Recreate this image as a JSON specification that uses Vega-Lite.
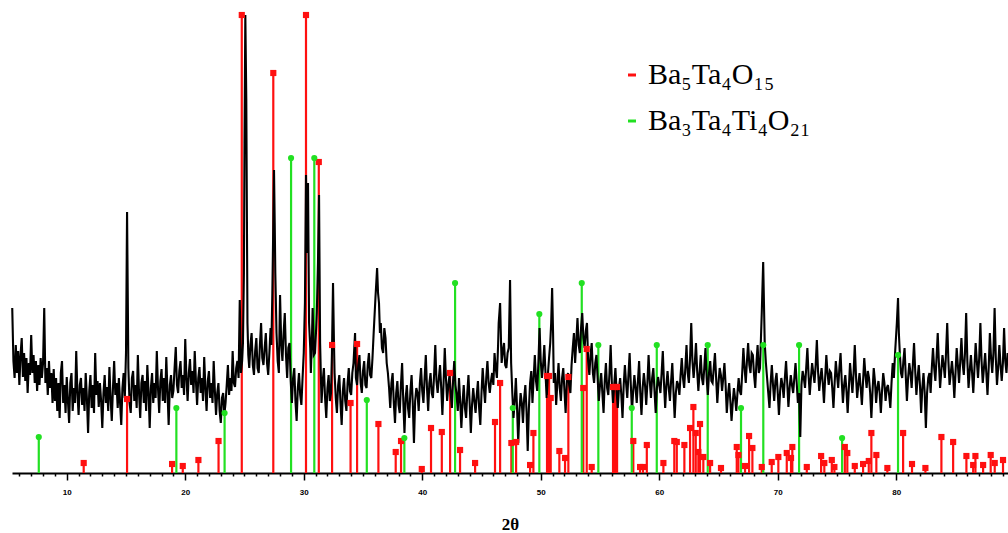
{
"$schema": "https://vega.github.io/schema/vega-lite/v6.json",
"width": 996,
"height": 461,
"autosize": {"type": "none"},
"padding": {"left": 12, "top": 12, "right": 0, "bottom": 60},
"background": "white",
"config": {"view": {"stroke": null}},
"resolve": {"axis": {"x": "independent"}},
"datasets": {
"sticks": [
{"t":11.43,"h":10,"p":"Ba₅Ta₄O₁₅"},{"t":15.09,"h":74,"p":"Ba₅Ta₄O₁₅"},{"t":18.89,"h":9,"p":"Ba₅Ta₄O₁₅"},{"t":19.79,"h":7,"p":"Ba₅Ta₄O₁₅"},{"t":21.11,"h":13,"p":"Ba₅Ta₄O₁₅"},{"t":22.81,"h":32,"p":"Ba₅Ta₄O₁₅"},{"t":24.77,"h":458,"p":"Ba₅Ta₄O₁₅"},{"t":27.43,"h":400,"p":"Ba₅Ta₄O₁₅"},{"t":30.19,"h":458,"p":"Ba₅Ta₄O₁₅"},{"t":31.27,"h":311,"p":"Ba₅Ta₄O₁₅"},{"t":32.39,"h":128,"p":"Ba₅Ta₄O₁₅"},{"t":33.95,"h":70,"p":"Ba₅Ta₄O₁₅"},{"t":34.5,"h":129,"p":"Ba₅Ta₄O₁₅"},{"t":36.3,"h":49,"p":"Ba₅Ta₄O₁₅"},{"t":37.76,"h":21,"p":"Ba₅Ta₄O₁₅"},{"t":38.21,"h":32,"p":"Ba₅Ta₄O₁₅"},{"t":39.96,"h":4,"p":"Ba₅Ta₄O₁₅"},{"t":40.74,"h":45,"p":"Ba₅Ta₄O₁₅"},{"t":41.65,"h":41,"p":"Ba₅Ta₄O₁₅"},{"t":42.35,"h":100,"p":"Ba₅Ta₄O₁₅"},{"t":43.19,"h":23,"p":"Ba₅Ta₄O₁₅"},{"t":44.46,"h":10,"p":"Ba₅Ta₄O₁₅"},{"t":46.14,"h":51,"p":"Ba₅Ta₄O₁₅"},{"t":46.57,"h":90,"p":"Ba₅Ta₄O₁₅"},{"t":47.52,"h":30,"p":"Ba₅Ta₄O₁₅"},{"t":47.92,"h":31,"p":"Ba₅Ta₄O₁₅"},{"t":49.1,"h":8,"p":"Ba₅Ta₄O₁₅"},{"t":49.38,"h":40,"p":"Ba₅Ta₄O₁₅"},{"t":50.53,"h":97,"p":"Ba₅Ta₄O₁₅"},{"t":50.7,"h":97,"p":"Ba₅Ta₄O₁₅"},{"t":50.84,"h":75,"p":"Ba₅Ta₄O₁₅"},{"t":51.57,"h":22,"p":"Ba₅Ta₄O₁₅"},{"t":52.05,"h":15,"p":"Ba₅Ta₄O₁₅"},{"t":52.33,"h":96,"p":"Ba₅Ta₄O₁₅"},{"t":53.59,"h":85,"p":"Ba₅Ta₄O₁₅"},{"t":53.88,"h":124,"p":"Ba₅Ta₄O₁₅"},{"t":54.3,"h":6,"p":"Ba₅Ta₄O₁₅"},{"t":56.1,"h":86,"p":"Ba₅Ta₄O₁₅"},{"t":56.27,"h":86,"p":"Ba₅Ta₄O₁₅"},{"t":56.44,"h":86,"p":"Ba₅Ta₄O₁₅"},{"t":57.81,"h":32,"p":"Ba₅Ta₄O₁₅"},{"t":58.38,"h":6,"p":"Ba₅Ta₄O₁₅"},{"t":58.63,"h":6,"p":"Ba₅Ta₄O₁₅"},{"t":58.95,"h":28,"p":"Ba₅Ta₄O₁₅"},{"t":60.35,"h":10,"p":"Ba₅Ta₄O₁₅"},{"t":61.27,"h":32,"p":"Ba₅Ta₄O₁₅"},{"t":61.48,"h":31,"p":"Ba₅Ta₄O₁₅"},{"t":62.12,"h":28,"p":"Ba₅Ta₄O₁₅"},{"t":62.6,"h":45,"p":"Ba₅Ta₄O₁₅"},{"t":62.88,"h":66,"p":"Ba₅Ta₄O₁₅"},{"t":63.08,"h":40,"p":"Ba₅Ta₄O₁₅"},{"t":63.3,"h":21,"p":"Ba₅Ta₄O₁₅"},{"t":63.44,"h":49,"p":"Ba₅Ta₄O₁₅"},{"t":63.72,"h":16,"p":"Ba₅Ta₄O₁₅"},{"t":64.29,"h":10,"p":"Ba₅Ta₄O₁₅"},{"t":65.21,"h":5,"p":"Ba₅Ta₄O₁₅"},{"t":66.54,"h":26,"p":"Ba₅Ta₄O₁₅"},{"t":66.68,"h":18,"p":"Ba₅Ta₄O₁₅"},{"t":67.24,"h":7,"p":"Ba₅Ta₄O₁₅"},{"t":67.58,"h":37,"p":"Ba₅Ta₄O₁₅"},{"t":67.86,"h":25,"p":"Ba₅Ta₄O₁₅"},{"t":68.65,"h":6,"p":"Ba₅Ta₄O₁₅"},{"t":69.49,"h":11,"p":"Ba₅Ta₄O₁₅"},{"t":70.05,"h":16,"p":"Ba₅Ta₄O₁₅"},{"t":70.76,"h":20,"p":"Ba₅Ta₄O₁₅"},{"t":71.12,"h":15,"p":"Ba₅Ta₄O₁₅"},{"t":71.23,"h":26,"p":"Ba₅Ta₄O₁₅"},{"t":72.45,"h":6,"p":"Ba₅Ta₄O₁₅"},{"t":73.66,"h":17,"p":"Ba₅Ta₄O₁₅"},{"t":73.93,"h":10,"p":"Ba₅Ta₄O₁₅"},{"t":74.56,"h":13,"p":"Ba₅Ta₄O₁₅"},{"t":74.78,"h":6,"p":"Ba₅Ta₄O₁₅"},{"t":75.66,"h":26,"p":"Ba₅Ta₄O₁₅"},{"t":75.87,"h":20,"p":"Ba₅Ta₄O₁₅"},{"t":76.5,"h":7,"p":"Ba₅Ta₄O₁₅"},{"t":77.2,"h":9,"p":"Ba₅Ta₄O₁₅"},{"t":77.68,"h":12,"p":"Ba₅Ta₄O₁₅"},{"t":77.9,"h":40,"p":"Ba₅Ta₄O₁₅"},{"t":78.32,"h":18,"p":"Ba₅Ta₄O₁₅"},{"t":79.25,"h":5,"p":"Ba₅Ta₄O₁₅"},{"t":80.58,"h":40,"p":"Ba₅Ta₄O₁₅"},{"t":81.33,"h":9,"p":"Ba₅Ta₄O₁₅"},{"t":82.46,"h":5,"p":"Ba₅Ta₄O₁₅"},{"t":83.81,"h":36,"p":"Ba₅Ta₄O₁₅"},{"t":84.8,"h":31,"p":"Ba₅Ta₄O₁₅"},{"t":85.92,"h":17,"p":"Ba₅Ta₄O₁₅"},{"t":86.49,"h":8,"p":"Ba₅Ta₄O₁₅"},{"t":86.68,"h":17,"p":"Ba₅Ta₄O₁₅"},{"t":87.33,"h":8,"p":"Ba₅Ta₄O₁₅"},{"t":87.97,"h":18,"p":"Ba₅Ta₄O₁₅"},{"t":88.31,"h":10,"p":"Ba₅Ta₄O₁₅"},{"t":89.01,"h":13,"p":"Ba₅Ta₄O₁₅"},
{"t":7.64,"h":36,"p":"Ba₃Ta₄Ti₄O₂₁"},{"t":19.25,"h":65,"p":"Ba₃Ta₄Ti₄O₂₁"},{"t":23.32,"h":60,"p":"Ba₃Ta₄Ti₄O₂₁"},{"t":28.93,"h":315,"p":"Ba₃Ta₄Ti₄O₂₁"},{"t":30.89,"h":315,"p":"Ba₃Ta₄Ti₄O₂₁"},{"t":35.32,"h":73,"p":"Ba₃Ta₄Ti₄O₂₁"},{"t":38.49,"h":35,"p":"Ba₃Ta₄Ti₄O₂₁"},{"t":42.77,"h":190,"p":"Ba₃Ta₄Ti₄O₂₁"},{"t":47.64,"h":65,"p":"Ba₃Ta₄Ti₄O₂₁"},{"t":49.88,"h":159,"p":"Ba₃Ta₄Ti₄O₂₁"},{"t":53.46,"h":190,"p":"Ba₃Ta₄Ti₄O₂₁"},{"t":54.86,"h":128,"p":"Ba₃Ta₄Ti₄O₂₁"},{"t":57.68,"h":65,"p":"Ba₃Ta₄Ti₄O₂₁"},{"t":59.79,"h":128,"p":"Ba₃Ta₄Ti₄O₂₁"},{"t":64.09,"h":128,"p":"Ba₃Ta₄Ti₄O₂₁"},{"t":66.9,"h":65,"p":"Ba₃Ta₄Ti₄O₂₁"},{"t":68.78,"h":128,"p":"Ba₃Ta₄Ti₄O₂₁"},{"t":71.8,"h":128,"p":"Ba₃Ta₄Ti₄O₂₁"},{"t":75.43,"h":35,"p":"Ba₃Ta₄Ti₄O₂₁"},{"t":80.15,"h":118,"p":"Ba₃Ta₄Ti₄O₂₁"}
],
"xrd": [
{"t":5.4,"i":165},{"t":5.5,"i":112},{"t":5.6,"i":95},{"t":5.7,"i":128},{"t":5.8,"i":100},{"t":5.9,"i":122},{"t":6.0,"i":88},{"t":6.1,"i":118},{"t":6.2,"i":135},{"t":6.3,"i":96},{"t":6.4,"i":120},{"t":6.5,"i":92},{"t":6.6,"i":115},{"t":6.7,"i":80},{"t":6.8,"i":110},{"t":6.9,"i":98},{"t":7.0,"i":138},{"t":7.1,"i":100},{"t":7.2,"i":118},{"t":7.3,"i":90},{"t":7.4,"i":112},
{"t":7.5,"i":82},{"t":7.6,"i":108},{"t":7.7,"i":88},{"t":7.8,"i":115},{"t":7.9,"i":95},{"t":8.0,"i":110},{"t":8.1,"i":165},{"t":8.2,"i":90},{"t":8.3,"i":105},{"t":8.4,"i":78},{"t":8.5,"i":112},{"t":8.6,"i":85},{"t":8.7,"i":100},{"t":8.8,"i":70},{"t":8.9,"i":104},
{"t":9.0,"i":72},{"t":9.1,"i":95},{"t":9.2,"i":62},{"t":9.3,"i":90},{"t":9.4,"i":55},{"t":9.5,"i":100},{"t":9.6,"i":112},{"t":9.7,"i":70},{"t":9.8,"i":88},{"t":9.9,"i":60},{"t":10.0,"i":96},{"t":10.1,"i":72},{"t":10.2,"i":50},{"t":10.3,"i":90},{"t":10.4,"i":100},{"t":10.5,"i":62},{"t":10.6,"i":85},{"t":10.7,"i":70},{"t":10.8,"i":122},{"t":10.9,"i":80},{"t":11.0,"i":58},{"t":11.1,"i":88},{"t":11.2,"i":95},{"t":11.3,"i":68},{"t":11.4,"i":85},{"t":11.5,"i":62},{"t":11.6,"i":100},{"t":11.7,"i":75},{"t":11.8,"i":40},{"t":11.9,"i":82},{"t":12.0,"i":98},{"t":12.1,"i":65},{"t":12.2,"i":88},{"t":12.3,"i":60},{"t":12.4,"i":120},{"t":12.5,"i":78},{"t":12.6,"i":92},{"t":12.7,"i":66},{"t":12.8,"i":90},{"t":12.9,"i":72},{"t":13.0,"i":45},{"t":13.1,"i":80},{"t":13.2,"i":98},{"t":13.3,"i":70},{"t":13.4,"i":86},{"t":13.5,"i":62},{"t":13.6,"i":106},{"t":13.7,"i":75},{"t":13.8,"i":52},{"t":13.9,"i":85},{"t":14.0,"i":112},{"t":14.1,"i":78},{"t":14.2,"i":90},{"t":14.3,"i":65},{"t":14.4,"i":95},{"t":14.5,"i":70},{"t":14.6,"i":48},{"t":14.7,"i":85},{"t":14.8,"i":100},{"t":14.9,"i":75},
{"t":15.0,"i":120},{"t":15.09,"i":261},{"t":15.2,"i":105},
{"t":15.3,"i":70},{"t":15.4,"i":60},{"t":15.5,"i":95},{"t":15.6,"i":102},{"t":15.7,"i":72},{"t":15.8,"i":88},{"t":15.9,"i":65},{"t":16.0,"i":118},{"t":16.1,"i":80},{"t":16.2,"i":55},{"t":16.3,"i":90},{"t":16.4,"i":98},{"t":16.5,"i":70},{"t":16.6,"i":92},{"t":16.7,"i":62},{"t":16.8,"i":108},{"t":16.9,"i":82},{"t":17.0,"i":45},{"t":17.1,"i":85},{"t":17.2,"i":100},{"t":17.3,"i":70},{"t":17.4,"i":90},{"t":17.5,"i":75},{"t":17.6,"i":122},{"t":17.7,"i":85},{"t":17.8,"i":60},{"t":17.9,"i":92},{"t":18.0,"i":104},{"t":18.1,"i":72},{"t":18.2,"i":95},{"t":18.3,"i":70},{"t":18.4,"i":116},{"t":18.5,"i":82},{"t":18.6,"i":48},{"t":18.7,"i":88},{"t":18.8,"i":98},{"t":18.9,"i":75},
{"t":19.0,"i":82},{"t":19.1,"i":105},{"t":19.2,"i":126},{"t":19.3,"i":88},{"t":19.4,"i":80},{"t":19.5,"i":102},{"t":19.6,"i":112},{"t":19.7,"i":85},{"t":19.8,"i":98},{"t":19.9,"i":78},{"t":20.0,"i":134},{"t":20.1,"i":95},{"t":20.2,"i":72},{"t":20.3,"i":100},{"t":20.4,"i":114},{"t":20.5,"i":88},{"t":20.6,"i":102},{"t":20.7,"i":80},{"t":20.8,"i":122},{"t":20.9,"i":92},
{"t":21.0,"i":68},{"t":21.1,"i":95},{"t":21.2,"i":106},{"t":21.3,"i":80},{"t":21.4,"i":95},{"t":21.5,"i":72},{"t":21.6,"i":116},{"t":21.7,"i":85},{"t":21.8,"i":62},{"t":21.9,"i":92},{"t":22.0,"i":102},{"t":22.1,"i":75},{"t":22.2,"i":90},{"t":22.3,"i":70},{"t":22.4,"i":112},{"t":22.5,"i":82},{"t":22.6,"i":58},
{"t":22.7,"i":80},{"t":22.8,"i":90},{"t":22.9,"i":62},{"t":23.0,"i":50},{"t":23.1,"i":75},{"t":23.2,"i":80},{"t":23.3,"i":58},{"t":23.4,"i":70},
{"t":23.5,"i":88},{"t":23.6,"i":108},{"t":23.7,"i":78},{"t":23.8,"i":95},{"t":23.9,"i":82},{"t":24.0,"i":122},{"t":24.1,"i":90},{"t":24.2,"i":86},{"t":24.3,"i":105},{"t":24.4,"i":112},{"t":24.5,"i":95},{"t":24.6,"i":173},{"t":24.7,"i":100},{"t":24.8,"i":112},{"t":24.87,"i":130},
{"t":24.95,"i":200},{"t":25.0,"i":330},{"t":25.07,"i":458},{"t":25.15,"i":375},{"t":25.25,"i":150},{"t":25.32,"i":118},
{"t":25.4,"i":105},{"t":25.5,"i":128},{"t":25.6,"i":140},{"t":25.7,"i":108},{"t":25.8,"i":98},{"t":25.9,"i":122},{"t":26.0,"i":135},{"t":26.1,"i":105},{"t":26.2,"i":100},{"t":26.3,"i":128},{"t":26.4,"i":150},{"t":26.5,"i":115},{"t":26.6,"i":108},{"t":26.7,"i":125},{"t":26.8,"i":140},{"t":26.9,"i":110},{"t":27.0,"i":98},{"t":27.1,"i":120},{"t":27.2,"i":145},{"t":27.27,"i":128},
{"t":27.35,"i":180},{"t":27.42,"i":240},{"t":27.49,"i":303},{"t":27.55,"i":250},{"t":27.6,"i":200},{"t":27.7,"i":140},
{"t":27.8,"i":112},{"t":27.9,"i":100},{"t":28.0,"i":178},{"t":28.1,"i":130},{"t":28.2,"i":112},{"t":28.3,"i":140},{"t":28.4,"i":160},{"t":28.5,"i":118},{"t":28.6,"i":95},{"t":28.7,"i":125},{"t":28.8,"i":130},{"t":28.9,"i":92},
{"t":29.0,"i":70},{"t":29.1,"i":95},{"t":29.2,"i":105},{"t":29.3,"i":72},{"t":29.4,"i":52},{"t":29.5,"i":85},{"t":29.6,"i":100},{"t":29.7,"i":78},{"t":29.8,"i":68},{"t":29.9,"i":95},{"t":30.0,"i":120},
{"t":30.1,"i":170},{"t":30.19,"i":298},{"t":30.28,"i":220},{"t":30.36,"i":290},{"t":30.45,"i":150},
{"t":30.55,"i":125},{"t":30.6,"i":100},{"t":30.7,"i":140},{"t":30.75,"i":165},{"t":30.85,"i":118},{"t":30.95,"i":120},{"t":31.05,"i":145},{"t":31.1,"i":160},
{"t":31.2,"i":210},{"t":31.29,"i":278},{"t":31.38,"i":130},
{"t":31.45,"i":95},{"t":31.5,"i":70},{"t":31.6,"i":92},{"t":31.7,"i":105},{"t":31.8,"i":75},{"t":31.9,"i":55},{"t":32.0,"i":85},{"t":32.1,"i":98},{"t":32.2,"i":72},{"t":32.3,"i":80},{"t":32.38,"i":120},
{"t":32.47,"i":190},{"t":32.55,"i":130},
{"t":32.6,"i":100},{"t":32.7,"i":75},{"t":32.8,"i":60},{"t":32.9,"i":88},{"t":33.0,"i":98},{"t":33.1,"i":70},{"t":33.2,"i":48},{"t":33.3,"i":82},{"t":33.4,"i":95},{"t":33.5,"i":72},
{"t":33.6,"i":62},{"t":33.7,"i":90},{"t":33.8,"i":105},{"t":33.9,"i":82},{"t":34.0,"i":78},{"t":34.1,"i":100},{"t":34.2,"i":110},{"t":34.33,"i":140},{"t":34.4,"i":95},{"t":34.5,"i":88},{"t":34.6,"i":108},{"t":34.7,"i":118},{"t":34.8,"i":90},{"t":34.9,"i":80},{"t":35.0,"i":102},{"t":35.1,"i":112},{"t":35.2,"i":88},{"t":35.3,"i":85},{"t":35.4,"i":108},{"t":35.5,"i":120},{"t":35.6,"i":98},{"t":35.7,"i":95},{"t":35.8,"i":115},{"t":35.9,"i":140},
{"t":36.05,"i":175},{"t":36.12,"i":190},{"t":36.19,"i":205},{"t":36.27,"i":180},{"t":36.35,"i":170},{"t":36.43,"i":140},{"t":36.5,"i":150},{"t":36.6,"i":125},{"t":36.7,"i":120},{"t":36.8,"i":145},{"t":36.9,"i":135},{"t":37.0,"i":110},{"t":37.1,"i":100},
{"t":37.2,"i":85},{"t":37.3,"i":65},{"t":37.4,"i":90},{"t":37.5,"i":100},{"t":37.6,"i":70},{"t":37.7,"i":50},{"t":37.8,"i":80},{"t":37.9,"i":92},{"t":38.0,"i":68},{"t":38.1,"i":60},{"t":38.2,"i":88},{"t":38.3,"i":110},{"t":38.4,"i":72},{"t":38.5,"i":40},{"t":38.6,"i":75},{"t":38.7,"i":88},{"t":38.8,"i":65},{"t":38.9,"i":55},{"t":39.0,"i":82},{"t":39.1,"i":98},{"t":39.2,"i":70},{"t":39.3,"i":30},{"t":39.4,"i":72},{"t":39.5,"i":85},{"t":39.6,"i":80},{"t":39.7,"i":62},{"t":39.8,"i":90},{"t":39.9,"i":105},
{"t":40.0,"i":82},{"t":40.1,"i":70},{"t":40.2,"i":95},{"t":40.3,"i":118},{"t":40.4,"i":85},{"t":40.5,"i":62},{"t":40.6,"i":90},{"t":40.7,"i":100},{"t":40.8,"i":80},{"t":40.9,"i":75},{"t":41.0,"i":98},{"t":41.1,"i":128},{"t":41.2,"i":92},{"t":41.3,"i":80},{"t":41.4,"i":95},{"t":41.5,"i":108},{"t":41.6,"i":85},{"t":41.7,"i":58},{"t":41.8,"i":90},{"t":41.9,"i":125},{"t":42.0,"i":95},{"t":42.1,"i":72},{"t":42.2,"i":88},{"t":42.3,"i":98},{"t":42.4,"i":80},{"t":42.5,"i":65},{"t":42.6,"i":92},{"t":42.7,"i":112},{"t":42.8,"i":88},
{"t":42.9,"i":78},{"t":43.0,"i":62},{"t":43.1,"i":95},{"t":43.2,"i":72},{"t":43.3,"i":45},{"t":43.4,"i":70},{"t":43.5,"i":88},{"t":43.6,"i":65},{"t":43.7,"i":55},{"t":43.8,"i":80},{"t":43.9,"i":98},{"t":44.0,"i":70},{"t":44.1,"i":40},{"t":44.2,"i":68},{"t":44.3,"i":85},{"t":44.4,"i":72},{"t":44.5,"i":60},{"t":44.6,"i":78},{"t":44.7,"i":92},{"t":44.8,"i":65},{"t":44.9,"i":48},{"t":45.0,"i":80},
{"t":45.1,"i":105},{"t":45.2,"i":85},{"t":45.3,"i":70},{"t":45.4,"i":95},{"t":45.5,"i":112},{"t":45.6,"i":90},{"t":45.7,"i":80},{"t":45.8,"i":92},{"t":45.9,"i":100},
{"t":46.0,"i":88},{"t":46.1,"i":120},{"t":46.2,"i":105},{"t":46.3,"i":95},{"t":46.4,"i":128},{"t":46.45,"i":150},{"t":46.57,"i":170},{"t":46.65,"i":130},{"t":46.7,"i":110},{"t":46.8,"i":122},{"t":46.9,"i":130},{"t":47.0,"i":108},{"t":47.1,"i":105},{"t":47.2,"i":120},{"t":47.3,"i":125},{"t":47.41,"i":193},{"t":47.5,"i":110},
{"t":47.6,"i":80},{"t":47.7,"i":55},{"t":47.8,"i":72},{"t":47.9,"i":95},{"t":48.0,"i":65},{"t":48.1,"i":30},{"t":48.2,"i":62},{"t":48.3,"i":80},{"t":48.4,"i":70},{"t":48.5,"i":50},{"t":48.6,"i":75},{"t":48.7,"i":88},{"t":48.8,"i":62},{"t":48.9,"i":22},{"t":49.0,"i":65},
{"t":49.1,"i":90},{"t":49.2,"i":102},{"t":49.3,"i":70},{"t":49.4,"i":95},{"t":49.5,"i":118},{"t":49.6,"i":92},{"t":49.7,"i":82},{"t":49.8,"i":110},{"t":49.9,"i":145},{"t":50.0,"i":112},{"t":50.1,"i":95},{"t":50.2,"i":108},{"t":50.3,"i":128},{"t":50.4,"i":100},
{"t":50.5,"i":75},{"t":50.6,"i":98},{"t":50.7,"i":115},{"t":50.8,"i":130},{"t":50.88,"i":150},{"t":50.96,"i":185},{"t":51.04,"i":140},{"t":51.1,"i":90},
{"t":51.2,"i":100},{"t":51.3,"i":68},{"t":51.4,"i":90},{"t":51.5,"i":110},{"t":51.6,"i":85},{"t":51.7,"i":72},{"t":51.8,"i":95},{"t":51.9,"i":105},{"t":52.0,"i":82},{"t":52.1,"i":60},{"t":52.2,"i":92},{"t":52.3,"i":100},{"t":52.4,"i":88},{"t":52.5,"i":80},{"t":52.6,"i":108},
{"t":52.7,"i":125},{"t":52.8,"i":140},{"t":52.9,"i":110},{"t":53.0,"i":132},{"t":53.1,"i":155},{"t":53.2,"i":128},{"t":53.3,"i":120},{"t":53.4,"i":145},{"t":53.5,"i":160},{"t":53.6,"i":135},{"t":53.7,"i":125},{"t":53.8,"i":142},{"t":53.9,"i":150},
{"t":54.0,"i":112},{"t":54.1,"i":98},{"t":54.2,"i":118},{"t":54.3,"i":130},{"t":54.4,"i":100},{"t":54.5,"i":90},{"t":54.6,"i":110},{"t":54.7,"i":118},{"t":54.8,"i":95},
{"t":54.9,"i":72},{"t":55.0,"i":88},{"t":55.1,"i":100},{"t":55.2,"i":80},{"t":55.3,"i":60},{"t":55.4,"i":92},{"t":55.5,"i":110},{"t":55.6,"i":85},{"t":55.7,"i":78},{"t":55.8,"i":100},{"t":55.9,"i":128},{"t":56.0,"i":90},{"t":56.1,"i":70},{"t":56.2,"i":88},{"t":56.3,"i":105},{"t":56.4,"i":82},{"t":56.5,"i":65},{"t":56.6,"i":85},{"t":56.7,"i":95},{"t":56.8,"i":78},{"t":56.9,"i":55},{"t":57.0,"i":88},{"t":57.1,"i":108},{"t":57.2,"i":90},{"t":57.3,"i":75},{"t":57.4,"i":98},{"t":57.5,"i":120},{"t":57.6,"i":88},{"t":57.7,"i":62},{"t":57.8,"i":82},{"t":57.9,"i":98},{"t":58.0,"i":85},{"t":58.1,"i":70},{"t":58.2,"i":92},{"t":58.3,"i":112},{"t":58.4,"i":80},{"t":58.5,"i":58},{"t":58.6,"i":85},{"t":58.7,"i":100},{"t":58.8,"i":88},{"t":58.9,"i":68},{"t":59.0,"i":90},{"t":59.1,"i":118},{"t":59.2,"i":92},{"t":59.3,"i":75},{"t":59.4,"i":95},{"t":59.5,"i":105},{"t":59.6,"i":82},{"t":59.7,"i":60},{"t":59.8,"i":85},{"t":59.9,"i":96},{"t":60.0,"i":88},{"t":60.1,"i":80},{"t":60.2,"i":100},{"t":60.3,"i":122},{"t":60.4,"i":90},{"t":60.5,"i":65},{"t":60.6,"i":88},{"t":60.7,"i":102},{"t":60.8,"i":85},{"t":60.9,"i":72},{"t":61.0,"i":92},{"t":61.1,"i":110},{"t":61.2,"i":82},{"t":61.3,"i":55},{"t":61.4,"i":80},{"t":61.5,"i":92},{"t":61.6,"i":88},{"t":61.7,"i":78},{"t":61.8,"i":98},{"t":61.9,"i":115},{"t":62.0,"i":95},
{"t":62.1,"i":85},{"t":62.2,"i":105},{"t":62.3,"i":128},{"t":62.4,"i":100},{"t":62.5,"i":90},{"t":62.6,"i":115},{"t":62.7,"i":150},{"t":62.8,"i":112},{"t":62.9,"i":95},{"t":63.0,"i":110},{"t":63.1,"i":130},{"t":63.2,"i":102},{"t":63.3,"i":82},{"t":63.4,"i":100},{"t":63.5,"i":118},{"t":63.6,"i":95},
{"t":63.7,"i":88},{"t":63.8,"i":105},{"t":63.9,"i":125},{"t":64.0,"i":95},{"t":64.1,"i":78},{"t":64.2,"i":100},{"t":64.3,"i":112},{"t":64.4,"i":92},{"t":64.5,"i":90},{"t":64.6,"i":105},{"t":64.7,"i":120},{"t":64.8,"i":95},{"t":64.9,"i":70},{"t":65.0,"i":90},{"t":65.1,"i":105},{"t":65.2,"i":98},{"t":65.3,"i":82},{"t":65.4,"i":95},{"t":65.5,"i":110},{"t":65.6,"i":88},
{"t":65.7,"i":60},{"t":65.8,"i":78},{"t":65.9,"i":90},{"t":66.0,"i":72},{"t":66.1,"i":52},{"t":66.2,"i":70},{"t":66.3,"i":85},{"t":66.4,"i":75},{"t":66.5,"i":62},{"t":66.6,"i":80},{"t":66.7,"i":95},{"t":66.8,"i":82},
{"t":66.9,"i":78},{"t":67.0,"i":100},{"t":67.1,"i":125},{"t":67.2,"i":105},{"t":67.3,"i":90},{"t":67.4,"i":112},{"t":67.5,"i":130},{"t":67.6,"i":108},{"t":67.7,"i":100},{"t":67.8,"i":120},{"t":67.9,"i":118},{"t":68.0,"i":98},{"t":68.1,"i":85},{"t":68.2,"i":110},{"t":68.3,"i":128},{"t":68.4,"i":100},{"t":68.5,"i":105},
{"t":68.65,"i":160},{"t":68.77,"i":211},{"t":68.9,"i":130},
{"t":69.0,"i":110},{"t":69.1,"i":95},{"t":69.2,"i":80},{"t":69.3,"i":65},{"t":69.4,"i":90},{"t":69.5,"i":108},{"t":69.6,"i":88},{"t":69.7,"i":72},{"t":69.8,"i":92},{"t":69.9,"i":100},{"t":70.0,"i":80},{"t":70.1,"i":58},{"t":70.2,"i":82},{"t":70.3,"i":95},{"t":70.4,"i":88},{"t":70.5,"i":75},{"t":70.6,"i":95},{"t":70.7,"i":112},{"t":70.8,"i":90},{"t":70.9,"i":66},{"t":71.0,"i":85},{"t":71.1,"i":98},{"t":71.2,"i":88},{"t":71.3,"i":80},{"t":71.4,"i":95},{"t":71.5,"i":110},{"t":71.6,"i":90},{"t":71.7,"i":70},{"t":71.8,"i":80},
{"t":71.9,"i":36},
{"t":72.0,"i":88},{"t":72.1,"i":102},{"t":72.2,"i":95},{"t":72.3,"i":85},{"t":72.4,"i":105},{"t":72.5,"i":125},{"t":72.6,"i":98},{"t":72.7,"i":78},{"t":72.8,"i":95},{"t":72.9,"i":110},{"t":73.0,"i":100},{"t":73.1,"i":90},{"t":73.2,"i":108},{"t":73.3,"i":133},{"t":73.4,"i":102},{"t":73.5,"i":82},{"t":73.6,"i":95},{"t":73.7,"i":105},{"t":73.8,"i":90},{"t":73.9,"i":70},{"t":74.0,"i":95},{"t":74.1,"i":118},{"t":74.2,"i":100},{"t":74.3,"i":88},{"t":74.4,"i":102},{"t":74.5,"i":100},{"t":74.6,"i":85},{"t":74.7,"i":65},{"t":74.8,"i":90},{"t":74.9,"i":112},{"t":75.0,"i":98},{"t":75.1,"i":85},{"t":75.2,"i":105},{"t":75.3,"i":120},
{"t":75.4,"i":92},{"t":75.5,"i":70},{"t":75.6,"i":88},{"t":75.7,"i":98},{"t":75.8,"i":82},{"t":75.9,"i":60},{"t":76.0,"i":85},{"t":76.1,"i":110},{"t":76.2,"i":95},{"t":76.3,"i":80},{"t":76.4,"i":100},{"t":76.5,"i":128},{"t":76.6,"i":98},{"t":76.7,"i":75},{"t":76.8,"i":88},{"t":76.9,"i":100},{"t":77.0,"i":85},{"t":77.1,"i":68},{"t":77.2,"i":92},{"t":77.3,"i":115},{"t":77.4,"i":98},{"t":77.5,"i":85},{"t":77.6,"i":102},{"t":77.7,"i":95},{"t":77.8,"i":80},{"t":77.9,"i":55},{"t":78.0,"i":82},{"t":78.1,"i":105},{"t":78.2,"i":92},{"t":78.3,"i":70},{"t":78.4,"i":85},{"t":78.5,"i":92},{"t":78.6,"i":80},{"t":78.7,"i":60},{"t":78.8,"i":82},
{"t":78.9,"i":100},{"t":79.0,"i":90},{"t":79.1,"i":72},{"t":79.2,"i":85},{"t":79.3,"i":88},{"t":79.4,"i":78},{"t":79.5,"i":65},{"t":79.6,"i":90},{"t":79.7,"i":110},{"t":79.8,"i":95},{"t":79.9,"i":120},
{"t":80.05,"i":150},{"t":80.15,"i":175},{"t":80.22,"i":140},{"t":80.3,"i":120},
{"t":80.4,"i":100},{"t":80.5,"i":95},{"t":80.6,"i":112},{"t":80.7,"i":125},{"t":80.8,"i":98},{"t":80.9,"i":72},{"t":81.0,"i":95},{"t":81.1,"i":110},{"t":81.2,"i":100},{"t":81.3,"i":85},{"t":81.4,"i":108},{"t":81.5,"i":130},{"t":81.6,"i":102},{"t":81.7,"i":78},{"t":81.8,"i":95},{"t":81.9,"i":108},{"t":82.0,"i":88},{"t":82.1,"i":60},{"t":82.2,"i":85},{"t":82.3,"i":100},{"t":82.4,"i":80},{"t":82.5,"i":45},{"t":82.6,"i":80},{"t":82.7,"i":95},{"t":82.8,"i":100},{"t":82.9,"i":80},{"t":83.0,"i":105},
{"t":83.1,"i":125},{"t":83.2,"i":105},{"t":83.3,"i":92},{"t":83.4,"i":115},{"t":83.5,"i":140},{"t":83.6,"i":110},{"t":83.7,"i":85},{"t":83.8,"i":102},{"t":83.9,"i":118},{"t":84.0,"i":108},{"t":84.1,"i":95},{"t":84.2,"i":120},{"t":84.3,"i":150},{"t":84.4,"i":112},{"t":84.5,"i":88},{"t":84.6,"i":100},{"t":84.7,"i":112},{"t":84.8,"i":98},{"t":84.9,"i":75},{"t":85.0,"i":100},{"t":85.1,"i":125},{"t":85.2,"i":108},{"t":85.3,"i":90},{"t":85.4,"i":112},{"t":85.5,"i":135},{"t":85.6,"i":110},{"t":85.7,"i":98},{"t":85.8,"i":120},{"t":85.9,"i":160},{"t":86.0,"i":112},{"t":86.1,"i":85},{"t":86.2,"i":102},{"t":86.3,"i":118},{"t":86.4,"i":100},{"t":86.5,"i":80},{"t":86.6,"i":105},{"t":86.7,"i":130},{"t":86.8,"i":112},{"t":86.9,"i":95},{"t":87.0,"i":115},{"t":87.1,"i":150},{"t":87.2,"i":112},{"t":87.3,"i":90},{"t":87.4,"i":105},{"t":87.5,"i":120},{"t":87.6,"i":100},{"t":87.7,"i":78},{"t":87.8,"i":105},{"t":87.9,"i":140},{"t":88.0,"i":115},{"t":88.1,"i":100},{"t":88.2,"i":120},{"t":88.3,"i":165},{"t":88.4,"i":115},{"t":88.5,"i":88},{"t":88.6,"i":105},{"t":88.7,"i":128},{"t":88.8,"i":108},{"t":88.9,"i":92},{"t":89.0,"i":110},{"t":89.1,"i":145},{"t":89.2,"i":112},{"t":89.3,"i":100},{"t":89.4,"i":120}
]
},
"layer": [
{
"data": {"name": "sticks"},
"mark": {"type": "rule", "strokeWidth": 2.2},
"encoding": {
"x": {"field": "t", "type": "quantitative",
"scale": {"domain": [5.38, 89.43], "nice": false, "zero": false},
"axis": {
"orient": "bottom",
"title": "2θ", "titleFont": "Liberation Serif", "titleFontWeight": "bold", "titleFontSize": 17, "titleColor": "black", "titlePadding": 20,
"values": [10,20,30,40,50,60,70,80],
"tickSize": 7, "tickColor": "black", "tickWidth": 1.5,
"domainColor": "black", "domainWidth": 2,
"labelFont": "Liberation Sans", "labelFontWeight": "bold", "labelFontSize": 8, "labelColor": "black", "labelPadding": 8,
"labelOverlap": false, "labelFlush": false, "grid": false
}},
"y": {"field": "h", "type": "quantitative", "scale": {"domain": [0, 461], "nice": false}, "axis": null},
"y2": {"datum": 0},
"color": {"field": "p", "type": "nominal",
"scale": {"domain": ["Ba₅Ta₄O₁₅", "Ba₃Ta₄Ti₄O₂₁"], "range": ["#ff1010", "#22e022"]},
"legend": {"title": null, "orient": "none", "legendX": 605, "legendY": 48, "symbolType": "M-1,0H1", "symbolSize": 64, "symbolStrokeWidth": 3, "labelFont": "Liberation Serif", "labelFontSize": 30, "labelColor": "black", "labelOffset": 1, "rowPadding": 16, "padding": 0, "labelLimit": 400}}
}
},
{
"data": {"name": "xrd"},
"mark": {"type": "line", "color": "black", "strokeWidth": 2.1},
"encoding": {
"x": {"field": "t", "type": "quantitative",
"axis": {"orient": "bottom", "title": null, "labels": false, "domain": false, "grid": false,
"values": [6,7,8,9,11,12,13,14,15,16,17,18,19,21,22,23,24,25,26,27,28,29,31,32,33,34,35,36,37,38,39,41,42,43,44,45,46,47,48,49,51,52,53,54,55,56,57,58,59,61,62,63,64,65,66,67,68,69,71,72,73,74,75,76,77,78,79,81,82,83,84,85,86,87,88,89],
"tickSize": 3, "tickColor": "black", "tickWidth": 1.5}},
"y": {"field": "i", "type": "quantitative", "axis": null}
}
},
{
"data": {"name": "sticks"},
"mark": {"type": "point", "filled": true, "opacity": 1, "size": 38},
"encoding": {
"x": {"field": "t", "type": "quantitative", "axis": null},
"y": {"field": "h", "type": "quantitative", "axis": null},
"shape": {"condition": {"test": "datum.p === 'Ba₅Ta₄O₁₅'", "value": "square"}, "value": "circle"},
"color": {"condition": {"test": "datum.p === 'Ba₅Ta₄O₁₅'", "value": "#ff1010"}, "value": "#22e022"}
}
}
]
}
